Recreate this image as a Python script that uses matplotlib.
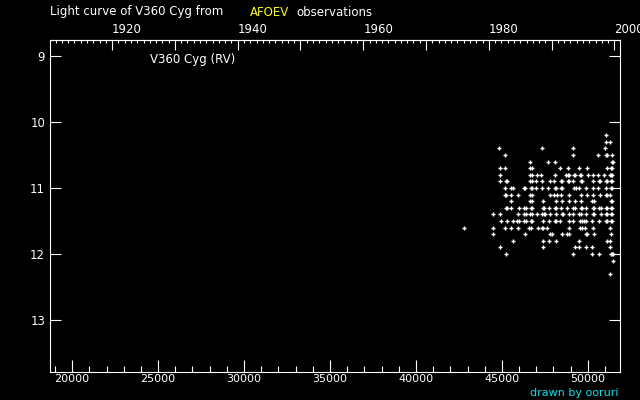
import matplotlib

matplotlib.use("Agg")
import matplotlib.pyplot as plt
from matplotlib.ticker import MultipleLocator, FuncFormatter

# observations: magnitude rows -> Julian dates (JD - 2400000)
MAGS = [10.2, 10.3, 10.4, 10.5, 10.6, 10.7, 10.8, 10.9, 11.0, 11.1, 11.2, 11.3,
        11.4, 11.5, 11.6, 11.7, 11.8, 11.9, 12.0, 12.1, 12.3]
JDS = [
    [51075],
    [51075, 51307],
    [44804, 47359, 49159, 51017],
    [45152, 49159, 50611, 51037, 51097, 51424],
    [46662, 47707, 48114, 51385, 51445],
    [44862, 45152, 46662, 46722, 48404, 48869, 49507, 49972, 51133, 51366, 51426],
    [44862, 46662, 46722, 47068, 47301, 48114, 48752, 48869, 48929, 49198, 49258,
     49565, 49625, 50030, 50320, 50611, 50959, 51307, 51367, 51424],
    [44862, 45229, 45289, 46662, 46722, 47010, 47359, 47823, 48056, 48462, 48522,
     48869, 48929, 49159, 49623, 49683, 50320, 50669, 50729, 51037, 51097, 51366, 51426],
    [45152, 45500, 45617, 46275, 46335, 46701, 46761, 47010, 47359, 47707, 48114,
     48174, 48462, 48522, 49217, 49333, 49507, 49914, 50320, 50611, 51075, 51366, 51426],
    [45152, 45212, 45500, 45965, 46662, 46722, 47823, 48056, 48230, 48462, 48927,
     49623, 49972, 50320, 50727, 51037, 51097, 51307],
    [45500, 46662, 46722, 47417, 48172, 48520, 48927, 49275, 49623, 50262, 50378,
     51366, 51426],
    [45229, 45289, 45558, 46023, 46313, 46430, 46701, 46761, 47417, 47477, 47765,
     48114, 48174, 48462, 48810, 49159, 49275, 49623, 49683, 49914, 50320, 50380,
     50669, 50785, 51075, 51135, 51366, 51426],
    [44455, 44862, 45965, 46313, 46373, 46662, 46722, 47068, 47359, 47475, 47535,
     47823, 48172, 48520, 48580, 48927, 49159, 49507, 49623, 49914, 50320, 50380,
     50785, 51075, 51135, 51366, 51426],
    [44920, 45268, 45617, 45907, 45967, 46313, 46373, 46701, 46761, 47417, 47765,
     48114, 48174, 48404, 48927, 49159, 49565, 49682, 49798, 49914, 50262, 50669,
     51075, 51135, 51366, 51426],
    [42771, 44455, 45152, 45558, 45965, 46604, 46720, 47126, 47359, 47419, 47649,
     48927, 49565, 49682, 49856, 50320, 51307],
    [44455, 46371, 47823, 47939, 48520, 48810, 48927, 49914, 49974, 50378, 51366],
    [45617, 47417, 47765, 48172, 49507, 51133, 51307],
    [44862, 47417, 49275, 49507, 49914, 50262, 51307],
    [45210, 49159, 50262, 50669, 51366, 51426, 51482],
    [51482],
    [51307],
]

JD_RANGE = (18711, 51870)
MAG_RANGE = (13.788, 8.758)
MAG_TICKS = [9, 10, 11, 12, 13]

FG = "white"
FS = 8.5

plt.rcParams.update({
    "font.family": "DejaVu Sans", "font.size": FS, "text.color": FG,
    "axes.edgecolor": FG, "xtick.color": FG, "ytick.color": FG,
    "axes.linewidth": 0.8,
})

fig = plt.figure(figsize=(6.4, 4.0), dpi=100, facecolor="black")
ax = fig.add_axes([50 / 640, 1 - 372 / 400, 570 / 640, 332 / 400], facecolor="black")

xs = [j for row in JDS for j in row]
ys = [m for m, row in zip(MAGS, JDS) for _ in row]
ax.plot(xs, ys, ls="none", marker="+", ms=3.2, mew=1.0, color=FG)

ax.set_xlim(*JD_RANGE)
ax.set_ylim(*MAG_RANGE)
ax.set_yticks(MAG_TICKS)

# bottom: JD, major every 5000, minor every 1000
ax.xaxis.set_major_locator(MultipleLocator(5000))
ax.xaxis.set_minor_locator(MultipleLocator(1000))
ax.xaxis.set_major_formatter(FuncFormatter(lambda v, p: f"{int(v)}"))
ax.tick_params(axis="x", which="major", direction="in", length=8.6, width=0.8,
               pad=1.5, labelsize=8, top=False)
ax.tick_params(axis="x", which="minor", direction="in", length=4.3, width=0.8, top=False)
ax.tick_params(axis="y", which="major", direction="in", length=7.9, width=0.8,
               pad=3.5, labelsize=FS, right=True)

# top: calendar years
def jd2yr(j):
    return 2000 + (j - 51544.5) / 365.25


def yr2jd(y):
    return 51544.5 + (y - 2000) * 365.25


top = ax.secondary_xaxis("top", functions=(jd2yr, yr2jd))
top.xaxis.set_major_locator(MultipleLocator(10))
top.xaxis.set_minor_locator(MultipleLocator(1))
top.xaxis.set_major_formatter(FuncFormatter(lambda v, p: f"{int(round(v))}" if round(v) % 20 == 0 else ""))
top.tick_params(which="major", direction="in", length=7.2, width=0.8, pad=3, labelsize=FS)
top.tick_params(which="minor", direction="in", length=2.5, width=0.8)
for lbl in top.get_xticklabels():
    lbl.set_ha("left")
top.spines["top"].set_color(FG)

for s in ax.spines.values():
    s.set_color(FG)

# header and annotations
fig.text(50 / 640, 1 - 12 / 400, "Light curve of V360 Cyg from", ha="left", va="center",
         fontsize=FS, color=FG)
fig.text(250 / 640, 1 - 12 / 400, "AFOEV", ha="left", va="center", fontsize=FS, color="#ffff00")
fig.text(296 / 640, 1 - 12 / 400, "observations", ha="left", va="center", fontsize=FS, color=FG)
fig.text(150 / 640, 1 - 60 / 400, "V360 Cyg (RV)", ha="left", va="center", fontsize=FS, color=FG)
fig.text(618 / 640, 1 - 393 / 400, "drawn by ooruri", ha="right", va="center",
         fontsize=8, color="#00e5ee")

fig.savefig("out.png", dpi=100, facecolor="black")
